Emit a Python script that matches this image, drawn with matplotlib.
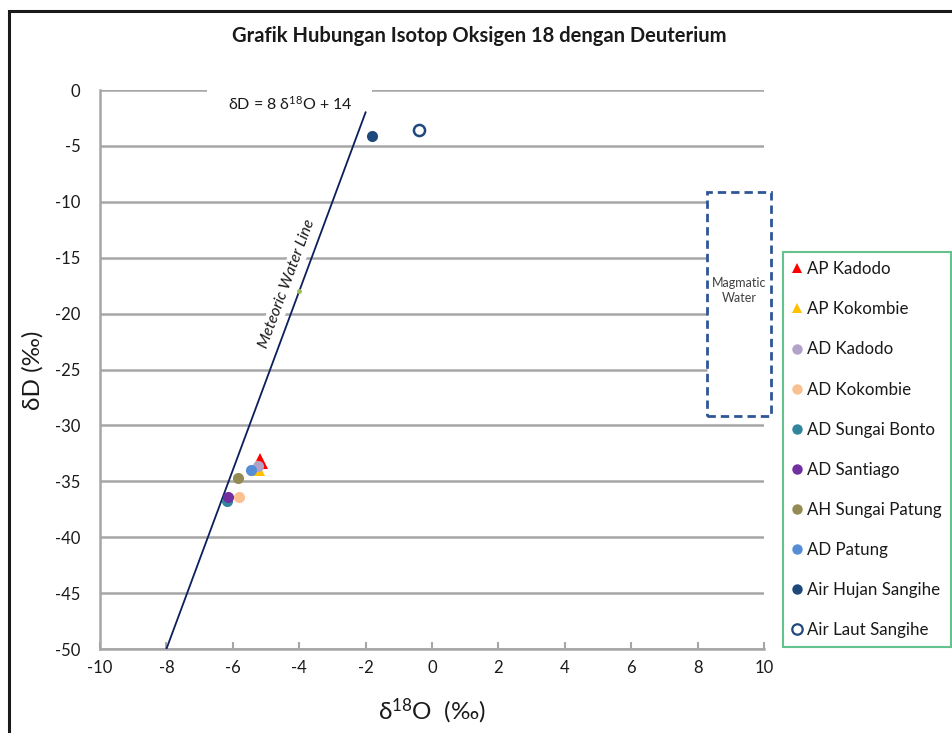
import matplotlib
matplotlib.use("Agg")
import matplotlib.pyplot as plt
from matplotlib.patches import Rectangle
from matplotlib.lines import Line2D

plt.rcParams['font.family'] = ['Lato', 'DejaVu Sans']
plt.rcParams['mathtext.fontset'] = 'custom'
plt.rcParams['mathtext.rm'] = 'Lato'
plt.rcParams['mathtext.it'] = 'Lato:italic'
plt.rcParams['axes.unicode_minus'] = False

# Sample isotope measurements (δ18O, δD) in ‰
series_names = ["AP Kadodo", "AP Kokombie", "AD Kadodo", "AD Kokombie",
                "AD Sungai Bonto", "AD Santiago", "AH Sungai Patung",
                "AD Patung", "Air Hujan Sangihe", "Air Laut Sangihe"]
d18o = [-5.18, -5.27, -5.24, -5.81, -6.17, -6.14, -5.84, -5.45, -1.81, -0.39]
dD = [-33.2, -33.8, -33.6, -36.4, -36.8, -36.4, -34.7, -34.0, -4.1, -3.6]
colors = ["#FF0000", "#FFC000", "#B3A2C7", "#FAC090", "#31859C", "#7030A0",
          "#948A54", "#558ED5", "#1F497D", "#1F497D"]
markers = ["^", "^", "o", "o", "o", "o", "o", "o", "o", "o"]
filled = [True] * 9 + [False]

# Global meteoric water line: δD = 8 δ18O + 14
gmwl_x = [-8, -2]
gmwl_slope, gmwl_intercept = 8, 14
gmwl_y = [gmwl_slope * v + gmwl_intercept for v in gmwl_x]

# Reference point on the meteoric line
ref_x, ref_y = [-4.0], [-18.0]

# Magmatic water field (δ18O range, δD range)
magmatic_x = (8.28, 10.21)
magmatic_y = (-29.2, -9.1)

xticks = list(range(-10, 11, 2))
yticks = list(range(-50, 1, 5))

fig = plt.figure(figsize=(9.52, 7.33), dpi=100)
ax = fig.add_axes([100 / 952, 1 - 649 / 733, 664 / 952, 559 / 733])

# outer frame of the chart area
fig.patches.append(Rectangle((9 / 952, -0.05), 1.0, 1 - 11 / 733 + 0.05,
                             transform=fig.transFigure, fill=False,
                             edgecolor="#1a1a1a", linewidth=2.2))

ax.set_xlim(-10, 10)
ax.set_ylim(-50, 0)
ax.set_xticks(xticks)
ax.set_yticks(yticks)
ax.tick_params(axis='x', direction='in', length=5, width=1.5, color="#A6A6A6",
               labelsize=12, pad=8)
ax.tick_params(axis='y', length=0, labelsize=12, pad=14)
for lab in ax.get_xticklabels() + ax.get_yticklabels():
    lab.set_color("#1a1a1a")

for s in ["top", "right"]:
    ax.spines[s].set_visible(False)
for s in ["left", "bottom"]:
    ax.spines[s].set_color("#A6A6A6")
    ax.spines[s].set_linewidth(1.8)

ax.yaxis.grid(True, color="#A6A6A6", linewidth=1.8, zorder=0)
ax.set_axisbelow(True)

# equation label box breaking the top gridline
ax.add_patch(Rectangle((-6.78, -0.85), 4.97, 1.7, facecolor="white",
                       edgecolor="none", zorder=1.5, clip_on=False))
ax.text(-4.28, -1.25, r"δD = 8 δ$^{18}$O + 14", fontsize=11.5,
        ha="center", va="center", color="#1a1a1a", zorder=3)

# magmatic water box
ax.add_patch(Rectangle((magmatic_x[0], magmatic_y[0]),
                       magmatic_x[1] - magmatic_x[0],
                       magmatic_y[1] - magmatic_y[0],
                       facecolor="white", edgecolor="#2F5597", linewidth=2,
                       linestyle=(0, (3, 1.8)), zorder=2, clip_on=False))
ax.text(sum(magmatic_x) / 2, -17.9, "Magmatic\nWater", fontsize=9,
        ha="center", va="center", color="#404040", zorder=3, linespacing=1.3)

# meteoric water line and its label
ax.plot(gmwl_x, gmwl_y, color="#0B1F5C", linewidth=1.3, zorder=3)
ax.text(-4.36, -17.3, "Meteoric Water Line", fontsize=11.5, style="italic",
        rotation=69.6, rotation_mode="anchor", ha="center", va="center",
        color="#1a1a1a", zorder=2.5,
        bbox=dict(facecolor="white", edgecolor="none", pad=1.5))
ax.plot(ref_x, ref_y, marker="o", markersize=2.5, color="#9BBB59",
        linestyle="none", zorder=3)

handles = []
for name, x, y, c, m, f in zip(series_names, d18o, dD, colors, markers, filled):
    ms = 11.5 if m == "^" else 8
    ax.plot([x], [y], marker=m, markersize=ms, linestyle="none",
            markerfacecolor=c if f else "white", markeredgecolor=c,
            markeredgewidth=0 if f else 1.8, zorder=4, label=name,
            clip_on=False)
    handles.append(Line2D([], [], marker=m, markersize=7.5,
                          linestyle="none",
                          markerfacecolor=c if f else "white",
                          markeredgecolor=c,
                          markeredgewidth=0 if f else 1.6, label=name))

leg = fig.legend(handles=handles, loc="upper left",
                 bbox_to_anchor=(783 / 952, 1 - 252 / 733), fontsize=12.2,
                 frameon=True, fancybox=False, labelspacing=1.42,
                 handlelength=0.6, handletextpad=0.25, borderpad=0.55,
                 borderaxespad=0)
leg.get_frame().set_edgecolor("#3CB371")
leg.get_frame().set_linewidth(1.5)
for t in leg.get_texts():
    t.set_color("#1a1a1a")

fig.text(479 / 952, 1 - 36 / 733,
         "Grafik Hubungan Isotop Oksigen 18 dengan Deuterium",
         fontsize=14.5, fontweight="bold", ha="center", va="center",
         color="#1a1a1a")
fig.text(432 / 952, 1 - 711 / 733, r"δ$^{18}$O  (‰)", fontsize=17.5,
         ha="center", va="center", color="#1a1a1a")
fig.text(33 / 952, 1 - 370 / 733, "δD (‰)", fontsize=17.5, rotation=90,
         ha="center", va="center", color="#1a1a1a")

fig.savefig("out.png", dpi=100)
